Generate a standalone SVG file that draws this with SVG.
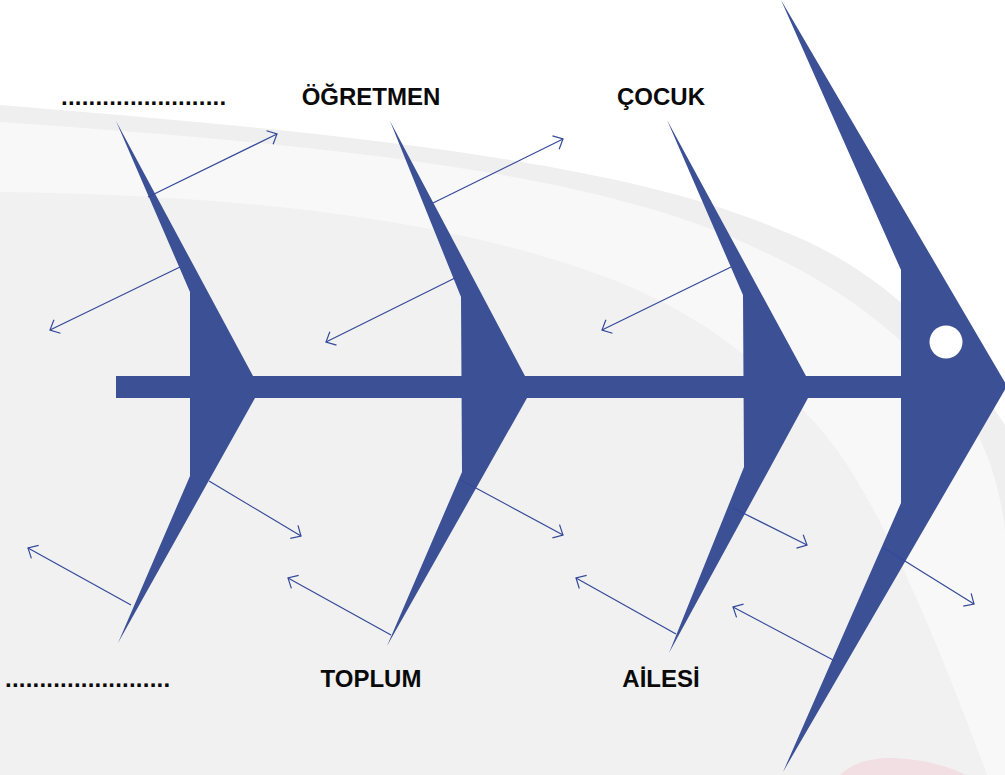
<svg xmlns="http://www.w3.org/2000/svg" width="1005" height="775" viewBox="0 0 1005 775">
  <style>
    .fish { fill: #3c5096; }
    .lbl { font-family: "Liberation Sans", Arial, sans-serif; font-weight: bold; font-size: 24px; fill: #0a0a0a; text-anchor: middle; }
    .dots { font-family: "Liberation Sans", Arial, sans-serif; font-weight: bold; font-size: 24px; fill: #0a0a0a; letter-spacing: 0.22px; }
    .arr { stroke: #34499a; stroke-width: 1.2; fill: none; marker-end: url(#open); }
  </style>
  <defs>
    <marker id="open" markerUnits="userSpaceOnUse" viewBox="-12 -12 24 24" markerWidth="24" markerHeight="24" refX="0" refY="0" orient="auto" overflow="visible">
      <path d="M-8,-7.5 L0,0 L-8,7.5" fill="none" stroke="#34499a" stroke-width="1.2"/>
    </marker>
  </defs>

  <g id="background">
    <rect x="0" y="0" width="1005" height="775" fill="#ffffff"/>
    <path d="M0,105 C330,132 620,160 780,230 C880,268 950,340 1005,425 L1005,775 L0,775 Z" fill="#efefef"/>
    <path d="M0,122 C330,145 600,172 760,250 C860,295 930,360 970,420 C990,455 1000,490 1005,530 L1005,775 L0,775 Z" fill="#f8f8f8"/>
    <path d="M0,192 C250,195 450,220 600,275 C700,310 780,375 837,450 C880,510 930,620 987,775 L0,775 Z" fill="#f1f1f1"/>
    <path d="M840,775 C852,763 870,758 892,758 C925,759 950,767 966,775 Z" fill="#f2dfe4"/>
  </g>

  <g id="spine">
    <rect class="fish" x="116" y="376" width="790" height="22"/>
  </g>

  <g id="head">
    <polygon class="fish" points="781,0 1007,386 783,772 901,503 901,270"/>
    <circle cx="946" cy="342" r="16.5" fill="#ffffff"/>
  </g>

  <g id="bone-1">
    <polygon class="fish" points="116,121 253,376 255,398 118,643 190,476 190,292"/>
    <text class="dots" x="61" y="105">........................</text>
    <text class="dots" x="5" y="687">........................</text>
  </g>

  <g id="bone-2">
    <polygon class="fish" points="390,121 525,376 527,398 387,646 462,472 461,297"/>
    <text class="lbl" x="371" y="105">ÖĞRETMEN</text>
    <text class="lbl" x="371" y="687">TOPLUM</text>
  </g>

  <g id="bone-3">
    <polygon class="fish" points="667,120 806,376 808,398 669,653 744,467 743,295"/>
    <text class="lbl" x="661" y="105">ÇOCUK</text>
    <text class="lbl" x="661" y="687">AİLESİ</text>
  </g>

  <g id="connectors">
    <line class="arr" x1="148" y1="197" x2="277" y2="134"/>
    <line class="arr" x1="180" y1="267" x2="50" y2="330"/>
    <line class="arr" x1="433" y1="203" x2="563" y2="139"/>
    <line class="arr" x1="455" y1="278" x2="326" y2="342"/>
    <line class="arr" x1="731" y1="267" x2="602" y2="330"/>
    <line class="arr" x1="209" y1="481" x2="301" y2="536"/>
    <line class="arr" x1="131" y1="605" x2="28" y2="548"/>
    <line class="arr" x1="461" y1="480" x2="563" y2="535"/>
    <line class="arr" x1="391" y1="635" x2="288" y2="578"/>
    <line class="arr" x1="733" y1="508" x2="807" y2="545"/>
    <line class="arr" x1="676" y1="634" x2="576" y2="578"/>
    <line class="arr" x1="884" y1="548" x2="974" y2="604"/>
    <line class="arr" x1="835" y1="661" x2="733" y2="607"/>
  </g>
</svg>
